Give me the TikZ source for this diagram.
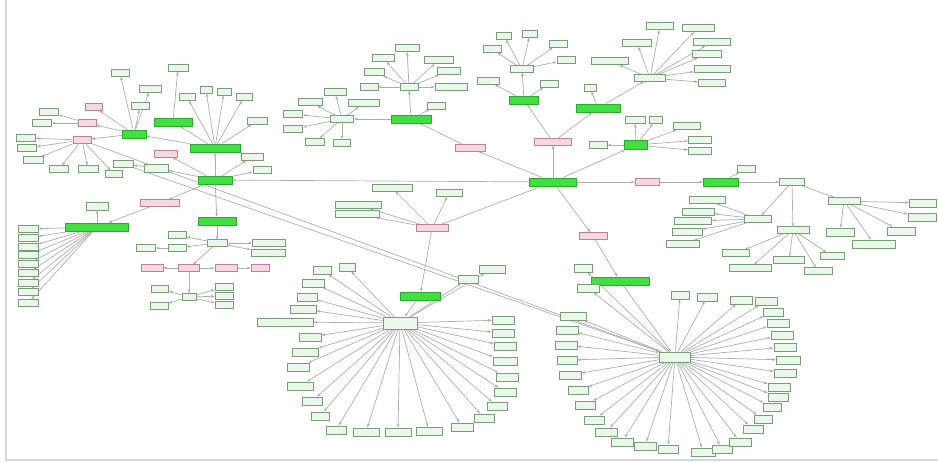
\documentclass[tikz,border=0pt]{standalone}
\usetikzlibrary{arrows.meta,backgrounds}
\definecolor{ltfill}{RGB}{234,248,234}
\definecolor{ltline}{RGB}{120,155,120}
\definecolor{pkfill}{RGB}{246,216,224}
\definecolor{pkline}{RGB}{190,128,146}
\definecolor{grfill}{RGB}{64,224,64}
\definecolor{grline}{RGB}{44,168,44}
\definecolor{edgegray}{RGB}{172,172,172}
\definecolor{framegray}{RGB}{215,215,215}
\tikzset{
  box/.style={rectangle, inner sep=0pt, minimum height=1.25mm, line width=0.45pt},
  lt/.style={box, fill=ltfill, draw=ltline},
  pk/.style={box, fill=pkfill, draw=pkline},
  gr/.style={box, fill=grfill, draw=grline, minimum height=1.6mm},
  wd/.style={minimum width=#1*0.2mm},
  ht/.style={minimum height=#1*0.2mm},
  edge/.style={draw=edgegray, line width=0.4pt, ->}
}

\begin{document}
\begin{tikzpicture}[x=0.2mm,y=-0.2mm,>={Stealth[length=2.2pt,width=1.6pt]}]
\useasboundingbox (0,0) rectangle (938,462);
\draw[framegray,line width=0.6pt] (6,0) -- (6,460) -- (938,460);

% main row
\node[gr,wd=47] (hub) at (553,182) {};
\node[gr,wd=34] (a) at (215,180) {};
\node[pk,wd=24] (p_r) at (647,182) {};
\node[gr,wd=35] (g_r) at (721,182) {};
\node[lt,wd=18] (g_r_1) at (746,169) {};
\node[lt,wd=25] (c_r) at (792,182) {};
\node[lt,wd=27] (c_r1) at (758,219) {};
\node[lt,wd=32] (c_r2) at (793,230) {};
\node[lt,wd=32] (c_r3) at (844,201) {};
\foreach \x/\y/\w [count=\i] in {707/200/36,698/212/32,693/221/37,687/232/30,683/244/33}
  \node[lt,wd=\w] (c_r1_\i) at (\x,\y) {};
\foreach \x/\y/\w [count=\i] in {736/253/27,750/268/42,789/260/31,818/271/28,832/256/24}
  \node[lt,wd=\w] (c_r2_\i) at (\x,\y) {};
\foreach \x/\y/\w [count=\i] in {923/203/27,922/217/28,901/231/28,840/232/28,874/244/43}
  \node[lt,wd=\w,ht=8] (c_r3_\i) at (\x,\y) {};

% top left
\node[pk,wd=18] (p_l) at (82,140) {};
\foreach \x/\y/\w [count=\i] in {26/138/19,27/148/19,33/160/20,59/169/19,88/169/20,114/174/17}
  \node[lt,wd=\w] (p_l_\i) at (\x,\y) {};
\node[lt,wd=19] (q_1) at (49,112) {};
\node[lt,wd=19] (q_2) at (42,123) {};
\node[pk,wd=18] (q_3) at (87,123) {};
\node[pk,wd=17] (q_4) at (94,107) {};
\node[gr,wd=24] (g_1) at (134,134) {};
\node[gr,wd=38] (g_2) at (173,122) {};
\node[gr,wd=50] (g_t) at (215,148) {};
\foreach \x/\y/\w [count=\i] in {120/73/18,150/89/22,140/106/18}
  \node[lt,wd=\w] (g_1_\i) at (\x,\y) {};
\node[lt,wd=20] (g_2_1) at (178,68) {};
\foreach \x/\y/\w [count=\i] in {187/97/16,206/90/12,224/92/14,244/97/16,257/121/20}
  \node[lt,wd=\w] (g_t_\i) at (\x,\y) {};
\node[pk,wd=23] (a_1) at (166,154) {};
\node[lt,wd=22] (a_2) at (252,157) {};
\node[lt,wd=18] (a_3) at (262,170) {};
\node[lt,wd=20] (l_1) at (123,164) {};
\node[lt,wd=24,ht=8] (l_2) at (156,168) {};

% left
\node[gr,wd=63] (g_l) at (97,227) {};
\node[lt,wd=22,ht=8] (g_l_up) at (97,206) {};
\node[pk,wd=39] (p_m) at (160,203) {};
\foreach \y [count=\i] in {229,238,247,255,264,273,283,292,303}
  \node[lt,wd=20] (g_l_\i) at (28,\y) {};

% below a
\node[gr,wd=38] (g_d) at (217,221) {};
\node[lt,wd=20] (h_3) at (217,243) {};
\node[lt,wd=18] (h_3_1) at (177,235) {};
\node[lt,wd=18] (h_3_2) at (177,248) {};
\node[lt,wd=19] (h_3_3) at (146,248) {};
\node[lt,wd=33] (h_3_4) at (269,243) {};
\node[lt,wd=34] (h_3_5) at (268,253) {};
\node[pk,wd=21] (h_4) at (189,268) {};
\node[pk,wd=22] (h_4_1) at (152,268) {};
\node[pk,wd=22] (h_4_2) at (226,268) {};
\node[pk,wd=18] (h_4_3) at (260,268) {};
\node[lt,wd=14] (h_5) at (189,297) {};
\foreach \x/\y/\w [count=\i] in {160/289/17,159/306/18,224/287/18,224/296/18,224/305/18}
  \node[lt,wd=\w] (h_5_\i) at (\x,\y) {};

% top middle
\node[gr,wd=40] (g_m) at (411,119) {};
\node[lt,wd=23] (h_m1) at (342,119) {};
\node[lt,wd=18] (h_m2) at (409,87) {};
\node[lt,wd=18] (g_m_1) at (436,106) {};
\node[pk,wd=30] (p_t) at (470,148) {};
\foreach \x/\y/\w [count=\i] in {335/92/22,310/102/24,364/103/31,293/114/19,293/129/19,315/142/19,342/143/17}
  \node[lt,wd=\w,ht=7] (h_m1_\i) at (\x,\y) {};
\foreach \x/\y/\w [count=\i] in {407/48/24,383/58/22,439/60/29,374/72/20,449/71/23,369/87/18,451/87/32}
  \node[lt,wd=\w,ht=7] (h_m2_\i) at (\x,\y) {};

% top right
\node[pk,wd=37] (p_c) at (553,142) {};
\node[gr,wd=29] (g_a) at (524,100) {};
\node[lt,wd=23] (h_a) at (522,69) {};
\foreach \x/\y/\w [count=\i] in {492/49/18,504/36/15,530/34/15,558/44/18,566/60/18}
  \node[lt,wd=\w] (h_a_\i) at (\x,\y) {};
\node[lt,wd=22] (g_a_1) at (488,81) {};
\node[lt,wd=18] (g_a_2) at (549,84) {};
\node[gr,wd=44] (g_b) at (598,108) {};
\node[lt,wd=12] (g_b_1) at (590,88) {};
\node[lt,wd=31] (h_b) at (650,78) {};
\foreach \x/\y/\w [count=\i] in {610/61/37,637/43/29,660/26/27,698/28/32,712/42/37,707/54/29,712/69/36,712/83/27}
  \node[lt,wd=\w,ht=7] (h_b_\i) at (\x,\y) {};
\node[gr,wd=23,ht=9] (g_c) at (636,145) {};
\foreach \x/\y/\w [count=\i] in {598/145/18,635/120/20,656/120/13,687/126/27,700/140/23,700/151/23}
  \node[lt,wd=\w,ht=7] (g_c_\i) at (\x,\y) {};

% lower middle
\node[pk,wd=32] (p_d) at (432,228) {};
\foreach \x/\y/\w [count=\i] in {392/188/40,449/193/26,358/205/46,357/214/44}
  \node[lt,wd=\w] (p_d_\i) at (\x,\y) {};
\node[gr,wd=40] (g_7) at (420,296) {};
\node[lt,wd=34,ht=12] (h_7) at (400,323) {};
\foreach \x/\y/\w [count=\i] in {322/270/18,347/267/16,313/283/22,307/297/20,303/309/26,285/322/56,
    310/337/22,305/352/26,298/367/22,300/386/26,312/401/20,320/416/18,336/430/20,366/432/26,
    398/432/26,429/431/26,462/427/22,484/418/20,497/406/20,505/392/22,507/377/22,505/361/24,
    505/346/22,503/333/22,503/320/22,492/269/26,468/279/20}
  \node[lt,wd=\w,ht=8] (h_7_\i) at (\x,\y) {};

% lower right
\node[pk,wd=28] (p_e) at (593,236) {};
\node[gr,wd=58] (g_6) at (620,281) {};
\node[lt,wd=31,ht=10] (h_6) at (675,357) {};
\foreach \x/\y/\w [count=\i] in {583/268/18,588/288/22,573/316/26,567/330/22,566/345/22,567/360/20,
    570/375/22,578/390/20,585/405/20,594/420/20,606/432/22,622/442/22,645/446/22,668/449/20,
    703/452/24,722/449/20,740/442/22,753/429/20,763/419/18,772/407/18,778/397/20,779/387/22,
    785/373/22,788/360/24,785/347/22,782/335/22,778/323/22,773/312/20,766/301/22,741/300/22,
    707/297/20,680/295/18}
  \node[lt,wd=\w,ht=8] (h_6_\i) at (\x,\y) {};

\begin{scope}[on background layer]
  \foreach \n in {a,p_r,p_c,g_c,p_t,p_d,p_e} \draw[edge] (hub) -- (\n);
  \draw[edge] (p_r) -- (g_r);
  \draw[edge] (g_r) -- (c_r);
  \draw[edge] (g_r) -- (g_r_1);
  \foreach \n in {c_r1,c_r2,c_r3} \draw[edge] (c_r) -- (\n);
  \foreach \i in {1,...,5} {
    \draw[edge] (c_r1) -- (c_r1_\i);
    \draw[edge] (c_r2) -- (c_r2_\i);
    \draw[edge] (c_r3) -- (c_r3_\i);
  }
  \foreach \i in {1,...,6} \draw[edge] (p_l) -- (p_l_\i);
  \draw[edge] (q_3) -- (q_2);
  \draw[edge] (q_3) -- (q_1);
  \draw[edge] (g_1) -- (q_3);
  \draw[edge] (g_1) -- (q_4);
  \draw[edge] (g_1) -- (p_l);
  \foreach \i in {1,2,3} \draw[edge] (g_1) -- (g_1_\i);
  \draw[edge] (g_2) -- (g_2_1);
  \draw[edge] (g_t) -- (g_1);
  \draw[edge] (g_t) -- (g_2);
  \foreach \i in {1,...,5} \draw[edge] (g_t) -- (g_t_\i);
  \draw[edge] (a) -- (g_t);
  \foreach \n in {a_1,a_2,a_3,l_2,p_m,g_d} \draw[edge] (a) -- (\n);
  \draw[edge] (l_2) -- (l_1);
  \draw[edge] (p_l) -- (h_6);
  \draw[edge] (l_1) -- (h_6);
  \draw[edge] (p_m) -- (g_l);
  \draw[edge] (g_l) -- (g_l_up);
  \foreach \i in {1,...,9} \draw[edge] (g_l) -- (g_l_\i);
  \draw[edge] (g_d) -- (h_3);
  \foreach \n in {h_3_1,h_3_2,h_3_4,h_3_5,h_4} \draw[edge] (h_3) -- (\n);
  \draw[edge] (h_3_2) -- (h_3_3);
  \foreach \n in {h_4_1,h_4_2,h_5} \draw[edge] (h_4) -- (\n);
  \draw[edge] (h_4_2) -- (h_4_3);
  \foreach \i in {1,...,5} \draw[edge] (h_5) -- (h_5_\i);
  \draw[edge] (p_t) -- (g_m);
  \foreach \n in {h_m1,h_m2,g_m_1} \draw[edge] (g_m) -- (\n);
  \foreach \i in {1,...,7} {
    \draw[edge] (h_m1) -- (h_m1_\i);
    \draw[edge] (h_m2) -- (h_m2_\i);
  }
  \draw[edge] (p_c) -- (g_a);
  \draw[edge] (p_c) -- (g_b);
  \foreach \n in {h_a,g_a_1,g_a_2} \draw[edge] (g_a) -- (\n);
  \foreach \i in {1,...,5} \draw[edge] (h_a) -- (h_a_\i);
  \draw[edge] (g_b) -- (g_b_1);
  \draw[edge] (g_b) -- (h_b);
  \foreach \i in {1,...,8} \draw[edge] (h_b) -- (h_b_\i);
  \foreach \i in {1,...,6} \draw[edge] (g_c) -- (g_c_\i);
  \foreach \i in {1,...,4} \draw[edge] (p_d) -- (p_d_\i);
  \draw[edge] (p_d) -- (g_7);
  \draw[edge] (g_7) -- (h_7);
  \foreach \i in {1,...,27} \draw[edge] (h_7) -- (h_7_\i);
  \draw[edge] (p_e) -- (g_6);
  \draw[edge] (g_6) -- (h_6);
  \foreach \i in {1,...,32} \draw[edge] (h_6) -- (h_6_\i);
\end{scope}
\end{tikzpicture}
\end{document}
